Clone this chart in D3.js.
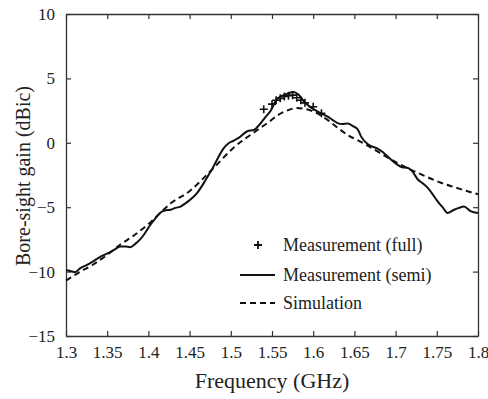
<!DOCTYPE html>
<html>
<head>
<meta charset="utf-8">
<script src="https://cdn.jsdelivr.net/npm/d3@7"></script>
<style>
  body { margin: 0; background: #fff; }
  svg text { font-family: "Liberation Serif", "DejaVu Serif", serif; fill: #222; }
</style>
</head>
<body>
<div id="chart"></div>
<script>
// measured gain, semi anechoic (freq GHz, dBic)
const semiFreq = [1.300, 1.305, 1.311, 1.317, 1.325, 1.333, 1.343, 1.353, 1.360, 1.366, 1.372, 1.378, 1.384, 1.390, 1.396, 1.402, 1.408, 1.414, 1.420, 1.427, 1.433, 1.439, 1.445, 1.451, 1.459, 1.467, 1.473, 1.479, 1.485, 1.491, 1.497, 1.503, 1.510, 1.520, 1.528, 1.536, 1.542, 1.548, 1.556, 1.562, 1.568, 1.576, 1.582, 1.589, 1.595, 1.601, 1.609, 1.617, 1.623, 1.629, 1.635, 1.642, 1.648, 1.654, 1.658, 1.666, 1.672, 1.678, 1.684, 1.690, 1.696, 1.702, 1.708, 1.715, 1.720, 1.727, 1.733, 1.739, 1.745, 1.751, 1.757, 1.763, 1.771, 1.777, 1.783, 1.791, 1.800];
const semiGain = [-9.9, -9.95, -10.05, -9.75, -9.5, -9.2, -8.8, -8.5, -8.25, -8.05, -8.05, -8.1, -7.85, -7.5, -7.0, -6.4, -5.9, -5.45, -5.25, -5.2, -5.05, -4.95, -4.7, -4.4, -3.9, -3.15, -2.5, -1.85, -1.1, -0.45, -0.05, 0.15, 0.4, 0.9, 1.0, 1.5, 2.0, 2.45, 3.4, 3.65, 3.8, 3.95, 3.75, 3.2, 2.85, 2.6, 2.3, 2.05, 1.8, 1.55, 1.45, 1.5, 1.3, 1.05, 0.5, -0.1, -0.3, -0.45, -0.7, -1.05, -1.4, -1.7, -1.9, -1.95, -2.2, -2.85, -3.15, -3.5, -4.0, -4.55, -5.0, -5.45, -5.2, -5.05, -4.95, -5.3, -5.45];

// simulation
const simFreq = [1.300, 1.315, 1.333, 1.350, 1.366, 1.380, 1.402, 1.427, 1.451, 1.466, 1.480, 1.503, 1.528, 1.548, 1.556, 1.568, 1.580, 1.592, 1.606, 1.617, 1.629, 1.642, 1.660, 1.680, 1.706, 1.731, 1.755, 1.779, 1.800];
const simGain = [-10.7, -10.1, -9.45, -8.7, -7.9, -7.3, -6.2, -4.7, -3.7, -2.8, -1.9, -0.4, 0.8, 1.7, 2.1, 2.5, 2.7, 2.6, 2.25, 1.8, 1.2, 0.6, 0.0, -0.75, -1.7, -2.45, -3.1, -3.6, -4.0];

// measured gain, full anechoic
const fullFreq = [1.540, 1.550, 1.555, 1.560, 1.565, 1.570, 1.575, 1.580, 1.585, 1.590, 1.600, 1.610];
const fullGain = [2.6, 3.0, 3.3, 3.45, 3.6, 3.65, 3.7, 3.5, 3.3, 3.1, 2.8, 2.3];

const xTicks = [1.3, 1.35, 1.4, 1.45, 1.5, 1.55, 1.6, 1.65, 1.7, 1.75, 1.8];
const yTicks = [-15, -10, -5, 0, 5, 10];
const legendLabels = ["Measurement (full)", "Measurement (semi)", "Simulation"];

const width = 488, height = 399;
const margin = {top: 14, right: 10, bottom: 63, left: 66};
const serif = "'Liberation Serif', 'DejaVu Serif', serif";

const svg = d3.select("#chart").append("svg")
    .attr("width", width)
    .attr("height", height);

const x = d3.scaleLinear().domain([1.3, 1.8]).range([margin.left, width - margin.right]);
const y = d3.scaleLinear().domain([-15, 10]).range([height - margin.bottom, margin.top]);

const axisColor = "#333";

// axes, ticks pointing inward on all sides
const xAxis = svg.append("g")
    .attr("transform", `translate(0,${y(-15)})`)
    .call(d3.axisBottom(x).tickValues(xTicks).tickSizeInner(-5).tickSizeOuter(0).tickPadding(10).tickFormat(d3.format("")));
const xTop = svg.append("g")
    .attr("transform", `translate(0,${y(10)})`)
    .call(d3.axisTop(x).tickValues(xTicks).tickSizeInner(-5).tickSizeOuter(0).tickFormat(""));
const yAxis = svg.append("g")
    .attr("transform", `translate(${x(1.3)},0)`)
    .call(d3.axisLeft(y).tickValues(yTicks).tickSizeInner(-5).tickSizeOuter(0).tickPadding(11));
const yRight = svg.append("g")
    .attr("transform", `translate(${x(1.8)},0)`)
    .call(d3.axisRight(y).tickValues(yTicks).tickSizeInner(-5).tickSizeOuter(0).tickFormat(""));

[xAxis, xTop, yAxis, yRight].forEach(g => {
    g.attr("font-family", null);
    g.select(".domain").attr("stroke", axisColor).attr("stroke-width", 1.3);
    g.selectAll(".tick line").attr("stroke", axisColor).attr("stroke-width", 1.2);
    g.selectAll(".tick text")
        .attr("fill", "#222")
        .attr("font-family", serif)
        .style("font-size", "17px");
});

// curves
const line = d3.line().x(d => x(d[0])).y(d => y(d[1])).curve(d3.curveMonotoneX);

svg.append("path")
    .datum(simFreq.map((f, i) => [f, simGain[i]]))
    .attr("d", line)
    .attr("fill", "none")
    .attr("stroke", "#111")
    .attr("stroke-width", 2)
    .attr("stroke-dasharray", "6,4");

svg.append("path")
    .datum(semiFreq.map((f, i) => [f, semiGain[i]]))
    .attr("d", line)
    .attr("fill", "none")
    .attr("stroke", "#111")
    .attr("stroke-width", 2);

// plus markers
svg.selectAll(".full")
    .data(fullFreq.map((f, i) => [f, fullGain[i]]))
    .enter().append("path")
    .attr("class", "full")
    .attr("d", "M-4,0H4M0,-4V4")
    .attr("transform", d => `translate(${x(d[0])},${y(d[1])})`)
    .attr("fill", "none")
    .attr("stroke", "#111")
    .attr("stroke-width", 1.6);

// legend
const legend = svg.append("g");
const legY = [245, 275, 303];
legend.append("path")
    .attr("d", "M-4,0H4M0,-4V4")
    .attr("transform", `translate(258,${legY[0]})`)
    .attr("stroke", "#111")
    .attr("stroke-width", 1.8);
legend.append("line")
    .attr("x1", 240).attr("x2", 275)
    .attr("y1", legY[1]).attr("y2", legY[1])
    .attr("stroke", "#111").attr("stroke-width", 2);
legend.append("line")
    .attr("x1", 240).attr("x2", 275)
    .attr("y1", legY[2]).attr("y2", legY[2])
    .attr("stroke", "#111").attr("stroke-width", 2)
    .attr("stroke-dasharray", "6,4");
legend.selectAll("text")
    .data(legendLabels)
    .enter().append("text")
    .attr("x", 283)
    .attr("y", (d, i) => legY[i])
    .attr("dy", "0.35em")
    .attr("font-family", serif)
    .style("font-size", "18px")
    .text(d => d);

// axis titles
svg.append("text")
    .attr("x", x(1.55))
    .attr("y", 388)
    .attr("text-anchor", "middle")
    .attr("font-family", serif)
    .style("font-size", "22px")
    .text("Frequency (GHz)");

svg.append("text")
    .attr("transform", `translate(23,176) rotate(-90)`)
    .attr("text-anchor", "middle")
    .attr("dy", "0.35em")
    .attr("font-family", serif)
    .style("font-size", "20px")
    .text("Bore-sight gain (dBic)");
</script>
</body>
</html>
